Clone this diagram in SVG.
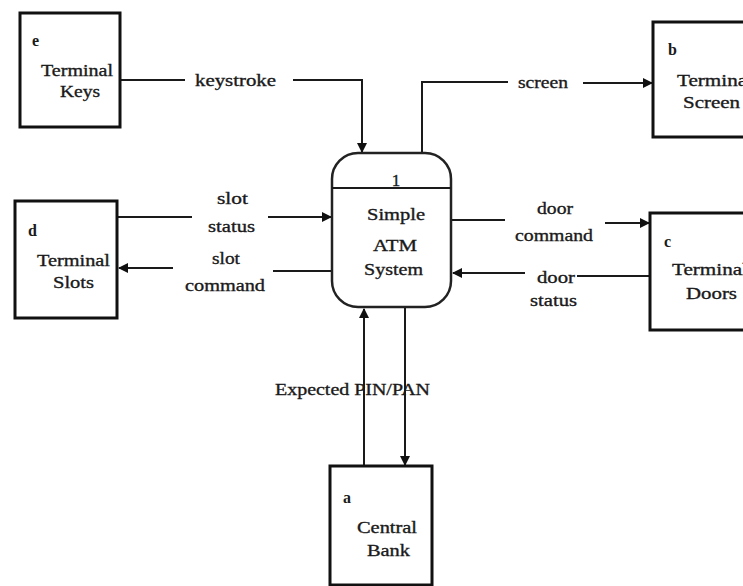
<svg xmlns="http://www.w3.org/2000/svg" width="743" height="586" viewBox="0 0 743 586">
<defs>
<style>
.box{fill:#fff;stroke:#111;stroke-width:3}
.proc{fill:#fff;stroke:#222;stroke-width:2.5}
.ln{fill:none;stroke:#1a1a1a;stroke-width:2}
.t{font-family:"Liberation Serif","Times New Roman",serif;font-size:17px;fill:#1a1a1a;stroke:#1a1a1a;stroke-width:0.35}
.s{font-family:"Liberation Serif","Times New Roman",serif;font-size:16px;font-weight:bold;fill:#1a1a1a}
</style>
<marker id="ah" viewBox="0 0 10 10" refX="9" refY="5" markerWidth="5" markerHeight="5" orient="auto" markerUnits="strokeWidth">
<path d="M0,0 L10,5 L0,10 z" fill="#111"/>
</marker>
</defs>
<rect width="743" height="586" fill="#fff"/>

<g id="connectors">
<path class="ln" d="M120,80 H185"/>
<path class="ln" d="M293,80 H362 V152" marker-end="url(#ah)"/>
<path class="ln" d="M422,153 V82 H508"/>
<path class="ln" d="M583,83 H652" marker-end="url(#ah)"/>
<path class="ln" d="M117,217 H192"/>
<path class="ln" d="M268,217 H331" marker-end="url(#ah)"/>
<path class="ln" d="M332,271 H273"/>
<path class="ln" d="M173,268 H119" marker-end="url(#ah)"/>
<path class="ln" d="M451,220 H505"/>
<path class="ln" d="M605,223 H649" marker-end="url(#ah)"/>
<path class="ln" d="M650,276 H577"/>
<path class="ln" d="M525,273 H453" marker-end="url(#ah)"/>
<path class="ln" d="M364,466 V309" marker-end="url(#ah)"/>
<path class="ln" d="M405,307 V465" marker-end="url(#ah)"/>
<text class="t" x="195" y="86" textLength="81" lengthAdjust="spacingAndGlyphs">keystroke</text>
<text class="t" x="518" y="88" textLength="50" lengthAdjust="spacingAndGlyphs">screen</text>
<text class="t" x="217" y="204" textLength="31" lengthAdjust="spacingAndGlyphs">slot</text>
<text class="t" x="208" y="232" textLength="47" lengthAdjust="spacingAndGlyphs">status</text>
<text class="t" x="212" y="264" textLength="28" lengthAdjust="spacingAndGlyphs">slot</text>
<text class="t" x="185" y="291" textLength="80" lengthAdjust="spacingAndGlyphs">command</text>
<text class="t" x="537" y="214" textLength="36" lengthAdjust="spacingAndGlyphs">door</text>
<text class="t" x="515" y="241" textLength="78" lengthAdjust="spacingAndGlyphs">command</text>
<text class="t" x="537" y="283" textLength="38" lengthAdjust="spacingAndGlyphs">door</text>
<text class="t" x="530" y="306" textLength="47" lengthAdjust="spacingAndGlyphs">status</text>
<text class="t" x="275" y="395" textLength="155" lengthAdjust="spacingAndGlyphs">Expected PIN/PAN</text>
</g>

<g id="process-1">
<rect class="proc" x="332" y="153" width="119" height="154" rx="26" ry="26"/>
<line class="ln" x1="332" y1="188" x2="451" y2="188"/>
<text class="t" x="396" y="186" text-anchor="middle">1</text>
<text class="t" x="367" y="220" textLength="58" lengthAdjust="spacingAndGlyphs">Simple</text>
<text class="t" x="373" y="251" textLength="44" lengthAdjust="spacingAndGlyphs">ATM</text>
<text class="t" x="364" y="275" textLength="59" lengthAdjust="spacingAndGlyphs">System</text>
</g>

<g id="entity-e">
<rect class="box" x="20" y="13" width="100" height="114"/>
<text class="s" x="32" y="46">e</text>
<text class="t" x="41" y="76" textLength="72" lengthAdjust="spacingAndGlyphs">Terminal</text>
<text class="t" x="60" y="97" textLength="40" lengthAdjust="spacingAndGlyphs">Keys</text>
</g>

<g id="entity-b">
<rect class="box" x="653" y="22" width="110" height="115"/>
<text class="s" x="668" y="55">b</text>
<text class="t" x="677" y="86" textLength="76" lengthAdjust="spacingAndGlyphs">Terminal</text>
<text class="t" x="683" y="108" textLength="57" lengthAdjust="spacingAndGlyphs">Screen</text>
</g>

<g id="entity-d">
<rect class="box" x="15" y="201" width="102" height="117"/>
<text class="s" x="28" y="236">d</text>
<text class="t" x="37" y="266" textLength="73" lengthAdjust="spacingAndGlyphs">Terminal</text>
<text class="t" x="53" y="288" textLength="41" lengthAdjust="spacingAndGlyphs">Slots</text>
</g>

<g id="entity-c">
<rect class="box" x="650" y="213" width="110" height="117"/>
<text class="s" x="664" y="247">c</text>
<text class="t" x="672" y="275" textLength="76" lengthAdjust="spacingAndGlyphs">Terminal</text>
<text class="t" x="686" y="299" textLength="51" lengthAdjust="spacingAndGlyphs">Doors</text>
</g>

<g id="entity-a">
<rect class="box" x="330" y="466" width="102" height="119"/>
<text class="s" x="343" y="503">a</text>
<text class="t" x="357" y="533" textLength="60" lengthAdjust="spacingAndGlyphs">Central</text>
<text class="t" x="367" y="556" textLength="43" lengthAdjust="spacingAndGlyphs">Bank</text>
</g>
</svg>
